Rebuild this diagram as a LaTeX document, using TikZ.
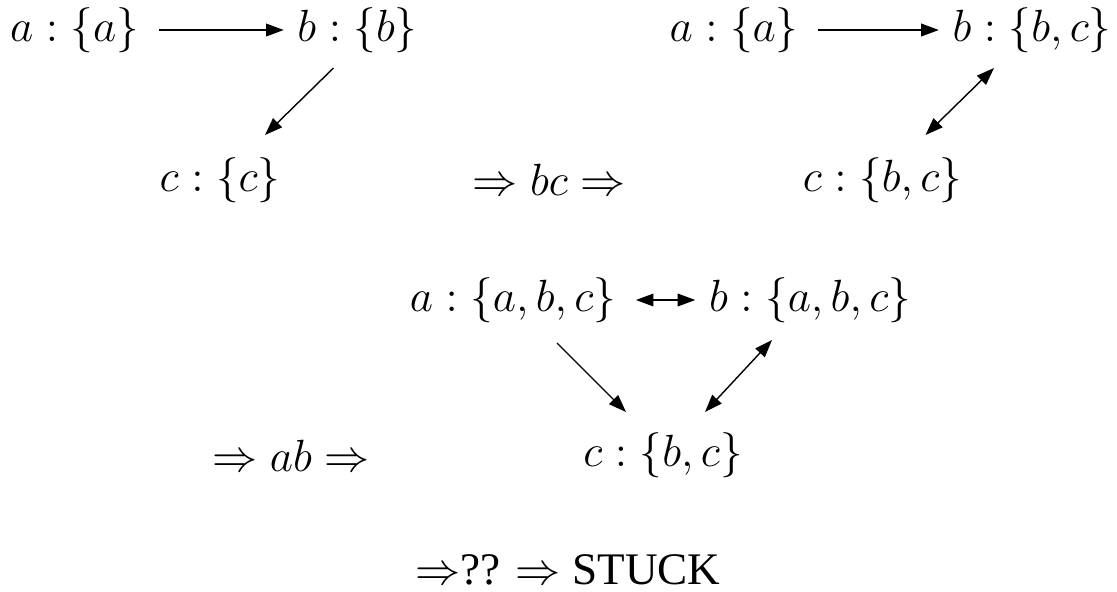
\RequirePackage{fix-cm}
\documentclass[12pt,tikz,border=0pt]{standalone}
\usepackage{fontspec}
\setmainfont{Liberation Serif}
\usepackage{tikz}
\usetikzlibrary{arrows.meta, calc}

\begin{document}
\begin{tikzpicture}[>={Triangle[length=5pt, width=3.6pt]}, every node/.style={font=\fontsize{12.85}{15}\selectfont}, state/.style={inner sep=0.13cm}, edge/.style={thin, shorten <=0.06cm}]
\useasboundingbox (0,0) rectangle (11.17,-5.91);
% first graph (top left)
\node[state] (a1) at (0.745,-0.30) {$a:\{a\}$};
\node[state] (b1) at (3.575,-0.30) {$b:\{b\}$};
\node[state] (c1) at (2.20,-1.80) {$c:\{c\}$};
\draw[->, edge] (a1) -- (b1);
\draw[->, thin] ($(b1)+(-0.24,-0.38)$) -- ($(c1)+(0.45,0.45)$);
% step bc
\node (stepbc) at (5.49,-1.80) {$\Rightarrow bc\Rightarrow$};
% second graph (top right)
\node[state] (a2) at (7.34,-0.30) {$a:\{a\}$};
\node[state] (b2) at (10.32,-0.30) {$b:\{b,c\}$};
\node[state] (c2) at (8.825,-1.80) {$c:\{b,c\}$};
\draw[->, edge] (a2) -- (b2);
\draw[<->, thin] ($(c2)+(0.43,0.45)$) -- ($(b2)+(-0.38,-0.38)$);
% third graph (middle)
\node[state] (a3) at (5.13,-3.00) {$a:\{a,b,c\}$};
\node[state] (b3) at (8.10,-3.00) {$b:\{a,b,c\}$};
\node[state] (c3) at (6.63,-4.55) {$c:\{b,c\}$};
\draw[<->, edge] (a3) -- (b3);
\draw[->, thin] ($(a3)+(0.44,-0.43)$) -- ($(c3)+(-0.37,0.43)$);
\draw[<->, thin] ($(c3)+(0.42,0.43)$) -- ($(b3)+(-0.38,-0.40)$);
% step ab
\node (stepab) at (2.91,-4.56) {$\Rightarrow ab\Rightarrow$};
% last step
\node (stuck) at (5.68,-5.70) {$\Rightarrow$?? $\Rightarrow$ STUCK};
\end{tikzpicture}
\end{document}
